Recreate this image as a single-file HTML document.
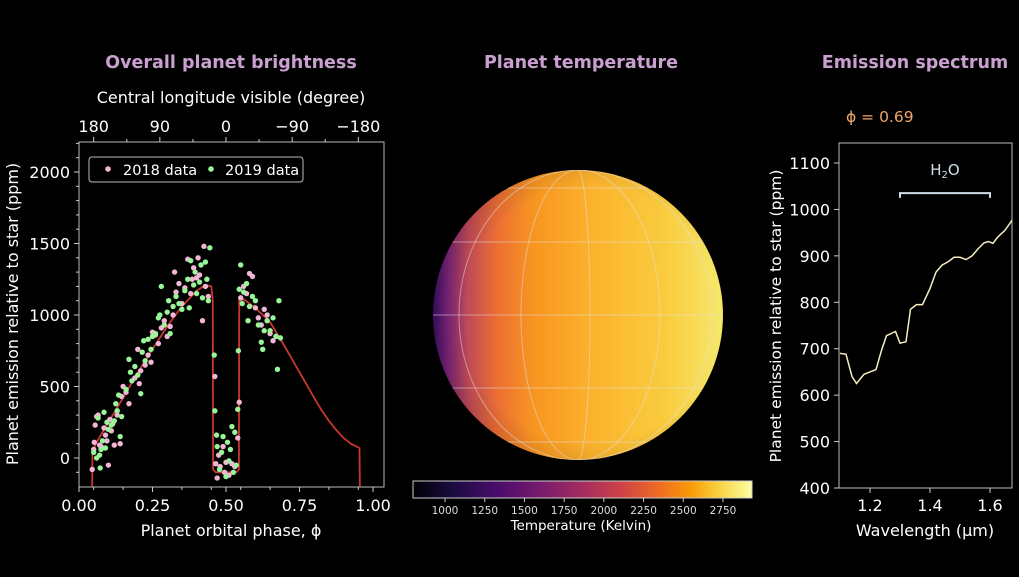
<!DOCTYPE html>
<html><head><meta charset="utf-8">
<style>
body{margin:0;background:#000;width:1019px;height:573px;overflow:hidden;font-family:"DejaVu Sans","Liberation Sans",sans-serif;}
svg text{font-family:"DejaVu Sans","Liberation Sans",sans-serif;}
</style></head>
<body>
<svg id="fig" width="1019" height="573" viewBox="0 0 1019 573" xmlns="http://www.w3.org/2000/svg">
<defs>
<linearGradient id="inferno" x1="0" x2="1" y1="0" y2="0">
<stop offset="0" stop-color="#000004"/><stop offset="0.12" stop-color="#1b0c41"/><stop offset="0.25" stop-color="#4a0c6b"/><stop offset="0.38" stop-color="#781c6d"/><stop offset="0.5" stop-color="#a52c60"/><stop offset="0.62" stop-color="#cf4446"/><stop offset="0.72" stop-color="#ed6925"/><stop offset="0.82" stop-color="#fb9b06"/><stop offset="0.9" stop-color="#f7d13d"/><stop offset="1" stop-color="#fcffa4"/>
</linearGradient>
<linearGradient id="planetgrad" x1="0" x2="1" y1="0" y2="0">
<stop offset="0" stop-color="#3a0e66"/><stop offset="0.05" stop-color="#7a2478"/><stop offset="0.12" stop-color="#c04a58"/><stop offset="0.22" stop-color="#ec6e34"/><stop offset="0.35" stop-color="#f89620"/><stop offset="0.55" stop-color="#fbb22c"/><stop offset="0.8" stop-color="#f9cc3e"/><stop offset="1" stop-color="#f6e86c"/>
</linearGradient>
<radialGradient id="shade" cx="0.55" cy="0.5" r="0.55">
<stop offset="0.8" stop-color="#000" stop-opacity="0"/><stop offset="1" stop-color="#000" stop-opacity="0.12"/>
</radialGradient>
<clipPath id="sphereclip"><circle cx="578" cy="315" r="145"/></clipPath>
<clipPath id="leftclip"><rect x="79" y="142" width="305" height="345"/></clipPath>
<clipPath id="rightclip"><rect x="839" y="143" width="173" height="345"/></clipPath>
</defs>

<text x="231" y="68" fill="#c9a0cf" font-size="17.5" font-weight="bold" text-anchor="middle">Overall planet brightness</text>
<text x="581" y="68" fill="#c9a0cf" font-size="17.5" font-weight="bold" text-anchor="middle">Planet temperature</text>
<text x="915" y="68" fill="#c9a0cf" font-size="17.5" font-weight="bold" text-anchor="middle">Emission spectrum</text>

<g id="left"></g>
<g id="center"></g>
<g id="right"></g>
</svg>
<script>
// ---------- Left chart data ----------
const xTicksPhase = [0, 0.25, 0.5, 0.75, 1.0];
const xTickLabelsPhase = ["0.00","0.25","0.50","0.75","1.00"];
const yTicksLeft = [0, 500, 1000, 1500, 2000];
const topTickLabels = ["180","90","0","\u221290","\u2212180"];
const topTickPhases = [0.05, 0.275, 0.5, 0.725, 0.95];
const modelPhase = [0.045,0.046,0.06,0.1,0.15,0.2,0.25,0.3,0.35,0.4,0.43,0.45,0.455,0.456,0.465,0.5,0.535,0.544,0.545,0.56,0.6,0.65,0.7,0.725,0.75,0.775,0.8,0.825,0.85,0.875,0.9,0.925,0.954,0.955];
const modelFlux  = [-200,50,110,250,420,600,760,920,1060,1170,1210,1200,1100,-80,-100,-100,-100,-80,1100,1110,1050,950,780,690,600,510,420,335,260,195,140,100,70,-200];
const data2018 = [[0.045,-80],[0.05,60],[0.052,110],[0.055,230],[0.06,290],[0.065,300],[0.07,90],[0.075,80],[0.085,210],[0.09,160],[0.095,120],[0.1,-50],[0.105,270],[0.11,190],[0.115,240],[0.12,90],[0.13,300],[0.14,100],[0.145,430],[0.15,500],[0.16,460],[0.17,380],[0.19,560],[0.2,760],[0.205,520],[0.21,610],[0.225,650],[0.235,720],[0.245,670],[0.25,880],[0.26,860],[0.27,800],[0.28,910],[0.29,960],[0.3,850],[0.31,920],[0.32,1000],[0.325,1300],[0.33,1160],[0.34,1220],[0.35,1080],[0.36,1190],[0.37,1390],[0.38,1150],[0.385,1250],[0.39,1330],[0.4,1260],[0.405,1400],[0.41,1280],[0.42,960],[0.425,1480],[0.43,1200],[0.44,1130],[0.462,570],[0.465,-40],[0.47,-140],[0.475,20],[0.48,-60],[0.49,80],[0.495,-100],[0.5,-30],[0.51,-120],[0.52,-40],[0.53,-60],[0.54,140],[0.545,390],[0.55,1120],[0.56,1200],[0.57,1150],[0.58,1290],[0.59,1270],[0.6,1050],[0.61,980],[0.62,930],[0.63,1040],[0.64,1000],[0.65,870],[0.66,820],[0.67,850]];
const data2019 = [[0.05,40],[0.06,0],[0.065,280],[0.07,20],[0.072,-70],[0.075,60],[0.08,120],[0.085,320],[0.09,70],[0.095,250],[0.1,200],[0.11,230],[0.12,260],[0.125,380],[0.13,330],[0.135,440],[0.14,150],[0.145,290],[0.16,480],[0.17,690],[0.175,600],[0.18,540],[0.19,640],[0.2,580],[0.21,450],[0.215,740],[0.22,820],[0.225,680],[0.235,830],[0.245,760],[0.25,850],[0.26,870],[0.27,980],[0.275,1000],[0.28,1200],[0.29,930],[0.3,1020],[0.305,1100],[0.31,870],[0.32,1060],[0.33,1130],[0.34,1080],[0.35,1040],[0.36,1170],[0.37,1250],[0.375,1050],[0.38,1380],[0.39,1210],[0.395,1300],[0.4,1150],[0.41,1230],[0.415,1350],[0.42,1120],[0.43,1370],[0.435,1250],[0.44,1100],[0.445,1470],[0.46,720],[0.462,330],[0.468,160],[0.47,80],[0.478,-80],[0.485,40],[0.49,150],[0.5,-130],[0.505,110],[0.51,-20],[0.515,60],[0.52,220],[0.525,-100],[0.53,180],[0.535,-50],[0.54,340],[0.542,750],[0.545,1180],[0.55,1350],[0.555,1080],[0.56,1160],[0.57,1220],[0.575,960],[0.58,1060],[0.59,1130],[0.6,1100],[0.61,930],[0.62,810],[0.625,760],[0.63,890],[0.64,960],[0.65,890],[0.66,980],[0.67,850],[0.675,620],[0.68,1100],[0.685,840]];

// ---------- Center data ----------
const cbTicks = [1000,1250,1500,1750,2000,2250,2500,2750];

// ---------- Right chart data ----------
const wavelength = [1.10,1.12,1.14,1.155,1.18,1.20,1.22,1.24,1.255,1.285,1.30,1.32,1.335,1.355,1.375,1.40,1.42,1.44,1.46,1.48,1.50,1.52,1.54,1.56,1.58,1.595,1.61,1.625,1.65,1.677];
const emission   = [690,688,640,625,645,650,655,700,728,737,712,715,785,795,795,830,865,880,887,897,897,892,900,915,928,931,927,940,955,980];
const xTicksSpec = [1.2,1.4,1.6];
const yTicksSpec = [400,500,600,700,800,900,1000,1100];

const NS="http://www.w3.org/2000/svg";
function mk(parent,tag,attrs,text){const e=document.createElementNS(NS,tag);for(const k in attrs)e.setAttribute(k,attrs[k]);if(text!==undefined)e.textContent=text;parent.appendChild(e);return e;}

// Left chart
const L=document.getElementById('left');
const lx=p=>79+p*294, ly=v=>458-v*(286/2000);
let e;
e=mk(L,'rect',{x:79,y:142,width:305,height:345,fill:'none',stroke:'#bbb','stroke-width':1});


const lp=modelPhase.map((p,i)=>lx(p).toFixed(1)+','+ly(modelFlux[i]).toFixed(1)).join(' ');
e=mk(L,'polyline',{points:lp,fill:'none',stroke:'#c8382e','stroke-width':1.8,'clip-path':'url(#leftclip)'});


data2018.forEach(d=>{const c=mk(L,'circle',{cx:lx(d[0]),cy:ly(d[1]),r:2.7,fill:'#f2b5d4'});

});
data2019.forEach(d=>{const c=mk(L,'circle',{cx:lx(d[0]),cy:ly(d[1]),r:2.7,fill:'#98f598'});

});
xTicksPhase.forEach((t,i)=>{mk(L,'line',{x1:lx(t),x2:lx(t),y1:487,y2:492,stroke:'#ccc'});
const tx=mk(L,'text',{x:lx(t),y:511,fill:'#fff','font-size':16,'text-anchor':'middle'},xTickLabelsPhase[i]);

});
for(let t=0.05;t<1.04;t+=0.1){mk(L,'line',{x1:lx(t),x2:lx(t),y1:487,y2:490,stroke:'#ccc'});}
yTicksLeft.forEach(t=>{mk(L,'line',{x1:74,x2:79,y1:ly(t),y2:ly(t),stroke:'#ccc'});
const tx=mk(L,'text',{x:70,y:ly(t)+6,fill:'#fff','font-size':16,'text-anchor':'end'},String(t));

});
for(let t=-100;t<=2200;t+=100){mk(L,'line',{x1:76,x2:79,y1:ly(t),y2:ly(t),stroke:'#ccc'});}
topTickPhases.forEach((p,i)=>{mk(L,'line',{x1:lx(p),x2:lx(p),y1:137,y2:142,stroke:'#ccc'});
const tx=mk(L,'text',{x:lx(p),y:132,fill:'#fff','font-size':16,'text-anchor':'middle'},topTickLabels[i]);

});
for(let k=0;k<4;k++){const p=topTickPhases[k]+0.1125;mk(L,'line',{x1:lx(p),x2:lx(p),y1:139,y2:142,stroke:'#ccc'});}
e=mk(L,'text',{x:231,y:103,fill:'#fff','font-size':16,'text-anchor':'middle'},'Central longitude visible (degree)');


e=mk(L,'text',{x:231,y:536,fill:'#fff','font-size':16,'text-anchor':'middle'},'Planet orbital phase, \u03D5');


e=mk(L,'text',{x:0,y:0,fill:'#fff','font-size':16,'text-anchor':'middle',transform:'translate(18,314) rotate(-90)'},'Planet emission relative to star (ppm)');


const lg=mk(L,'g',{});


mk(lg,'rect',{x:89,y:157,width:214,height:25,rx:3,fill:'#000',stroke:'#bbb'});
mk(lg,'circle',{cx:108,cy:169,r:2.8,fill:'#f2b5d4'});
e=mk(lg,'text',{x:123,y:175,fill:'#fff','font-size':14.5},'2018 data');


mk(lg,'circle',{cx:211,cy:169,r:2.8,fill:'#98f598'});
e=mk(lg,'text',{x:225,y:175,fill:'#fff','font-size':14.5},'2019 data');



// Center
const C=document.getElementById('center');
e=mk(C,'circle',{cx:578,cy:315,r:145,fill:'url(#planetgrad)'});


mk(C,'circle',{cx:578,cy:315,r:145,fill:'url(#shade)'});
const grid=mk(C,'g',{'clip-path':'url(#sphereclip)',stroke:'#e8e0e0','stroke-opacity':0.5,fill:'none','stroke-width':1});


[188,242,315,388,442].forEach(y=>mk(grid,'line',{x1:430,x2:726,y1:y,y2:y}));
[[459,0],[521,0],[590,1],[660,1],[712,1]].forEach(m=>{const r=Math.abs(m[0]-578);
mk(grid,'path',{d:`M578,170 A${r},145 0 0 ${m[1]} 578,460`});});
const cbx=t=>445+(t-1000)*(278/1750);
e=mk(C,'rect',{x:413,y:481,width:339,height:17,fill:'url(#inferno)',stroke:'#ccc','stroke-width':1});


cbTicks.forEach(t=>{mk(C,'line',{x1:cbx(t),x2:cbx(t),y1:498,y2:502,stroke:'#ccc'});
const tx=mk(C,'text',{x:cbx(t),y:514,fill:'#ddd','font-size':10.5,'text-anchor':'middle'},String(t));

});
e=mk(C,'text',{x:581,y:530,fill:'#fff','font-size':13.5,'text-anchor':'middle'},'Temperature (Kelvin)');



// Right
const R=document.getElementById('right');
const rx=w=>870+(w-1.2)*300, ry=v=>488-(v-400)*(325/700);
e=mk(R,'rect',{x:839,y:143,width:173,height:345,fill:'none',stroke:'#bbb'});


e=mk(R,'polyline',{points:wavelength.map((w,i)=>rx(w).toFixed(1)+','+ry(emission[i]).toFixed(1)).join(' '),fill:'none',stroke:'#f6eec0','stroke-width':1.5,'clip-path':'url(#rightclip)'});


yTicksSpec.forEach(t=>{mk(R,'line',{x1:834,x2:839,y1:ry(t),y2:ry(t),stroke:'#ccc'});
const tx=mk(R,'text',{x:830,y:ry(t)+6,fill:'#fff','font-size':16,'text-anchor':'end'},String(t));

});
xTicksSpec.forEach(t=>{mk(R,'line',{x1:rx(t),x2:rx(t),y1:488,y2:493,stroke:'#ccc'});
const tx=mk(R,'text',{x:rx(t),y:511,fill:'#fff','font-size':16,'text-anchor':'middle'},t.toFixed(1));

});
e=mk(R,'text',{x:925,y:536,fill:'#fff','font-size':16,'text-anchor':'middle'},'Wavelength (\u03BCm)');


e=mk(R,'text',{x:0,y:0,fill:'#fff','font-size':15.5,'text-anchor':'middle',transform:'translate(781,316) rotate(-90)'},'Planet emission relative to star (ppm)');


e=mk(R,'text',{x:846,y:122,fill:'#f2a86a','font-size':15.5},'\u03D5 = 0.69');


const br=mk(R,'path',{d:`M${rx(1.3)},${ry(1025)} V${ry(1035)} H${rx(1.6)} V${ry(1025)}`,fill:'none',stroke:'#cde0ea','stroke-width':2});


e=mk(R,'text',{x:rx(1.45),y:175,fill:'#cde0ea','font-size':15,'text-anchor':'middle'},'');


e.innerHTML='H<tspan font-size="10" dy="3">2</tspan><tspan dy="-3">O</tspan>';
</script>
</body></html>
